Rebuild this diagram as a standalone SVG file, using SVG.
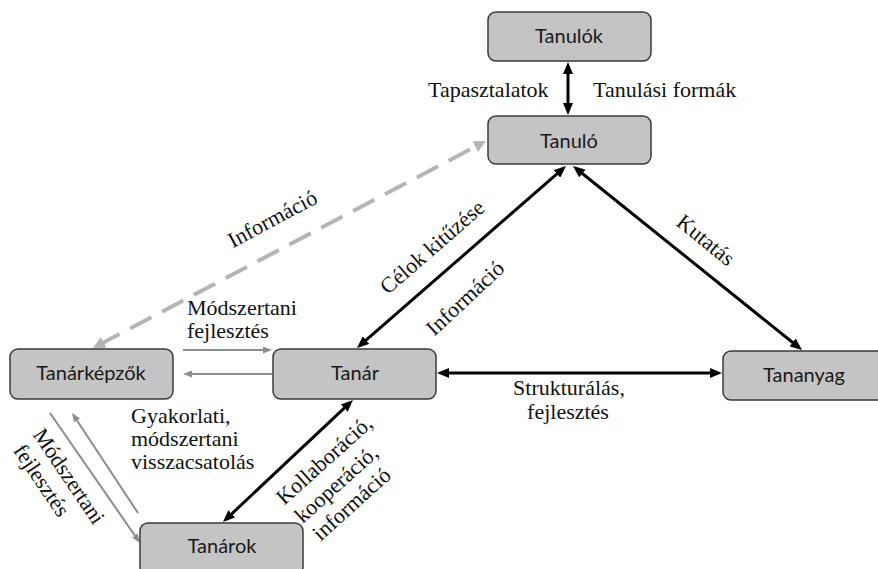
<svg xmlns="http://www.w3.org/2000/svg" width="878" height="569" viewBox="0 0 878 569">
  <style>
    .box { fill: #c4c4c4; stroke: #3a3a3a; stroke-width: 1.5; }
    .bt { font-family: Lato, "Liberation Sans", sans-serif; font-size: 20px; fill: #1a1a1a; text-anchor: middle; }
    .lbl { font-family: "Liberation Serif", "Times New Roman", Times, serif; font-size: 22px; fill: #111; }
    .mid { text-anchor: middle; }
    .blk { stroke: #000; stroke-width: 3; fill: none; marker-start: url(#ab); marker-end: url(#ab); }
    .gry { stroke: #8c8c8c; stroke-width: 2; fill: none; marker-end: url(#ag); }
    .dsh { stroke: #b5b5b5; stroke-width: 4; fill: none; stroke-dasharray: 24 12; marker-start: url(#ad); marker-end: url(#ad); }
  </style>
  <defs>
    <marker id="ab" viewBox="0 0 12 10" refX="8" refY="5" markerWidth="12" markerHeight="10" markerUnits="userSpaceOnUse" orient="auto-start-reverse">
      <path d="M0,0 L12,5 L0,10 z" fill="#000"/>
    </marker>
    <marker id="ag" viewBox="0 0 9 7" refX="6" refY="3.5" markerWidth="9" markerHeight="7" markerUnits="userSpaceOnUse" orient="auto-start-reverse">
      <path d="M0,0 L9,3.5 L0,7 z" fill="#8c8c8c"/>
    </marker>
    <marker id="ad" viewBox="0 0 12 12" refX="6" refY="6" markerWidth="12" markerHeight="12" markerUnits="userSpaceOnUse" orient="auto-start-reverse">
      <path d="M0,0 L12,6 L0,12 z" fill="#b5b5b5"/>
    </marker>
  </defs>

  <g id="connectors">
    <line class="dsh" x1="98.3" y1="345.2" x2="480.7" y2="143.8"/>
    <line class="blk" x1="568" y1="66" x2="568" y2="111"/>
    <line class="blk" x1="360" y1="345.4" x2="563" y2="168.6"/>
    <line class="blk" x1="576.1" y1="168.5" x2="798.9" y2="347.5"/>
    <line class="blk" x1="441" y1="373" x2="718" y2="373"/>
    <line class="blk" x1="350.1" y1="402.7" x2="225.9" y2="519.3"/>
    <line class="gry" x1="183" y1="350" x2="269" y2="350"/>
    <line class="gry" x1="272" y1="374" x2="186" y2="374"/>
    <line class="gry" x1="50" y1="413" x2="138.3" y2="540.5"/>
    <line class="gry" x1="138" y1="513" x2="73.7" y2="415.5"/>
  </g>

  <g id="labels">
    <text class="lbl" x="428" y="97">Tapasztalatok</text>
    <text class="lbl" x="593" y="97">Tanulási formák</text>
    <text class="lbl mid" transform="translate(273,220) rotate(-28)" y="6">Információ</text>
    <text class="lbl mid" transform="translate(433,248) rotate(-41)" y="6">Célok kitűzése</text>
    <text class="lbl mid" transform="translate(466,299) rotate(-43)" y="6">Információ</text>
    <text class="lbl mid" transform="translate(705,241) rotate(39)" y="6">Kutatás</text>
    <text class="lbl mid" x="569" y="395">Strukturálás,</text>
    <text class="lbl mid" x="568" y="419">fejlesztés</text>
    <text class="lbl" x="187" y="315">Módszertani</text>
    <text class="lbl" x="187" y="338">fejlesztés</text>
    <text class="lbl" x="131" y="423">Gyakorlati,</text>
    <text class="lbl" x="131" y="446">módszertani</text>
    <text class="lbl" x="131" y="469">visszacsatolás</text>
    <g transform="translate(68,477) rotate(56)">
      <text class="lbl mid" x="0" y="6">Módszertani</text>
      <text class="lbl mid" x="-12" y="31">fejlesztés</text>
    </g>
    <g transform="translate(325,461) rotate(-42)">
      <text class="lbl mid" x="0" y="6">Kollaboráció,</text>
      <text class="lbl mid" x="-7" y="32">kooperáció,</text>
      <text class="lbl mid" x="-9" y="57">információ</text>
    </g>
  </g>

  <g id="tanulok">
    <rect class="box" x="488" y="12" width="163" height="49" rx="8"/>
    <text class="bt" x="569" y="43">Tanulók</text>
  </g>
  <g id="tanulo">
    <rect class="box" x="488" y="116" width="163" height="48" rx="8"/>
    <text class="bt" x="569" y="148">Tanuló</text>
  </g>
  <g id="tanarkepzok">
    <rect class="box" x="10" y="349" width="163" height="50" rx="8"/>
    <text class="bt" x="91" y="380">Tanárképzők</text>
  </g>
  <g id="tanar">
    <rect class="box" x="273" y="349" width="163" height="50" rx="8"/>
    <text class="bt" x="355" y="380">Tanár</text>
  </g>
  <g id="tananyag">
    <rect class="box" x="723" y="351" width="165" height="49" rx="8"/>
    <text class="bt" x="804" y="382">Tananyag</text>
  </g>
  <g id="tanarok">
    <rect class="box" x="140" y="523" width="163" height="52" rx="8"/>
    <text class="bt" x="222" y="553">Tanárok</text>
  </g>
</svg>
